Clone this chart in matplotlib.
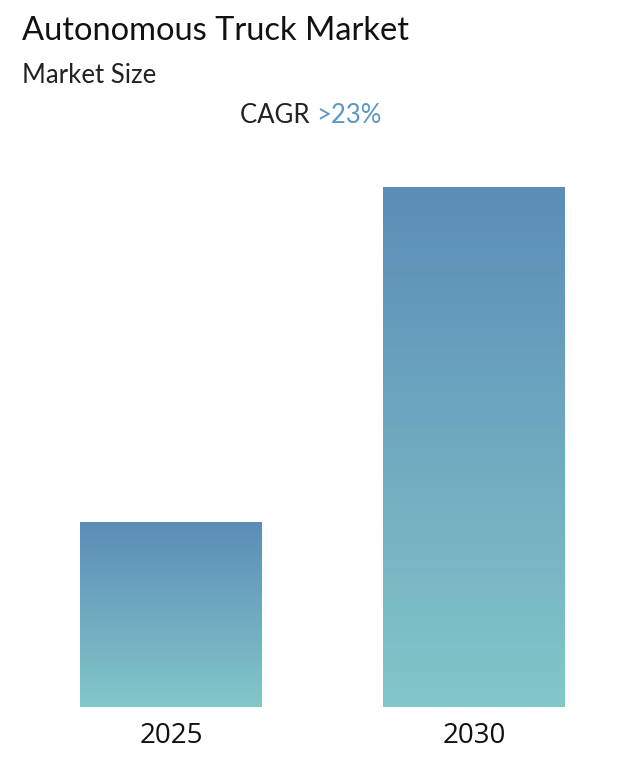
import matplotlib.pyplot as plt
import numpy as np
from matplotlib.colors import LinearSegmentedColormap

years = ["2025", "2030"]
market_size = [1.0, 2.81]  # relative sizes

TITLE = "Autonomous Truck Market"
SUBTITLE = "Market Size"
CAGR_LABEL = "CAGR "
CAGR_VALUE = ">23%"

TOP_COLOR = "#5b8db7"
BOTTOM_COLOR = "#82c7c9"


def draw_gradient_bars(ax, x, heights, width):
    cmap = LinearSegmentedColormap.from_list("bar_grad", [BOTTOM_COLOR, TOP_COLOR])
    bars = ax.bar(x, heights, width=width, color="none", edgecolor="none")
    grad = np.linspace(0, 1, 256).reshape(-1, 1)
    for bar in bars:
        x0, y0 = bar.get_x(), bar.get_y()
        w, h = bar.get_width(), bar.get_height()
        im = ax.imshow(grad, cmap=cmap, origin="lower", aspect="auto",
                       extent=(x0, x0 + w, y0, y0 + h), zorder=2)
        im.set_clip_path(bar)
    return bars


def main():
    fig = plt.figure(figsize=(6.4, 7.65), dpi=100)
    ax = fig.add_axes([0, 58 / 765, 1, 520 / 765])

    x = np.arange(len(years))
    draw_gradient_bars(ax, x, market_size, width=0.6)

    ax.set_xlim(-0.564, 1.548)
    ax.set_ylim(0, max(market_size))
    for spine in ax.spines.values():
        spine.set_visible(False)
    ax.set_yticks([])
    ax.set_xticks(x)
    ax.set_xticklabels(years, fontsize=20, family="Open Sans", color="#111111")
    ax.tick_params(axis="x", length=0, pad=11)

    fig.text(22 / 640, 1 - 40 / 765, TITLE, fontsize=23.5, family="Lato",
             color="#111111", va="baseline", ha="left")
    fig.text(22 / 640, 1 - 83 / 765, SUBTITLE, fontsize=18.5, family="Lato",
             color="#222222", va="baseline", ha="left")

    t = fig.text(240 / 640, 1 - 123 / 765, CAGR_LABEL, fontsize=18.5, family="Lato",
                 color="#222222", va="baseline", ha="left")
    fig.canvas.draw()
    bb = t.get_window_extent()
    fig.text(bb.x1 / fig.bbox.width, 1 - 123 / 765, CAGR_VALUE, fontsize=18.5,
             family="Lato", color="#5b97c6", va="baseline", ha="left")

    fig.savefig("out.png", dpi=100)
    plt.close(fig)


if __name__ == "__main__":
    main()
